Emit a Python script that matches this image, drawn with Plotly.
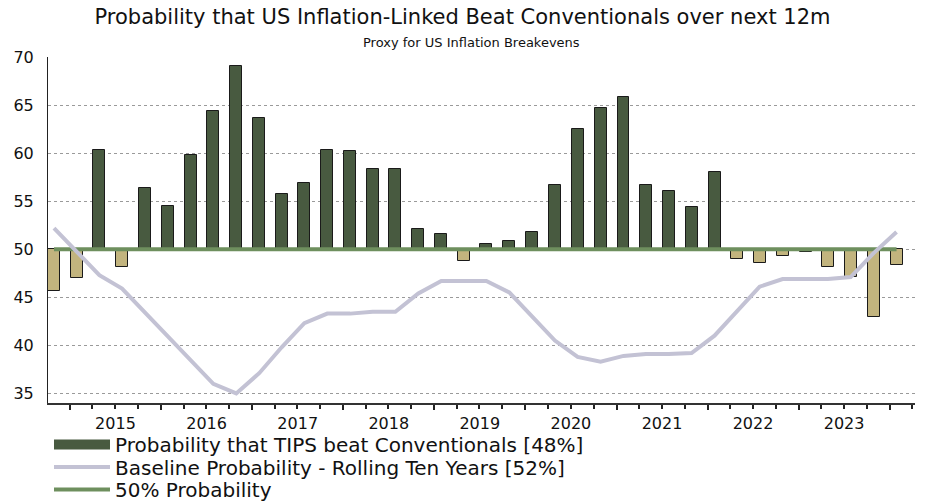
import pandas as pd
import plotly.graph_objects as go

# Quarterly observations, 2014 Q4 to 2024 Q1
quarters = pd.date_range("2014-10-01", "2024-01-01", freq="QS")

tips_prob = [45.7, 47.0, 60.3, 48.2, 56.4, 54.5, 59.8, 64.4, 69.1, 63.7,
             55.7, 56.9, 60.3, 60.2, 58.3, 58.3, 52.1, 51.6, 48.8, 50.5,
             50.9, 51.8, 56.7, 62.5, 64.7, 65.8, 56.7, 56.1, 54.4, 58.0,
             49.0, 48.6, 49.3, 49.7, 48.2, 47.1, 43.0, 48.4]

baseline_prob = [52.2, 49.7, 47.3, 45.9, 43.4, 40.9, 38.4, 36.0, 35.0, 37.1,
                 39.8, 42.3, 43.3, 43.3, 43.5, 43.5, 45.4, 46.7, 46.7, 46.7,
                 45.5, 43.0, 40.5, 38.8, 38.3, 38.9, 39.1, 39.1, 39.2, 41.0,
                 43.5, 46.1, 46.9, 46.9, 46.9, 47.1, 49.6, 51.8]

threshold = 50.0

legend_names = ["Probability that TIPS beat Conventionals [48%]",
                "Baseline Probability - Rolling Ten Years [52%]",
                "50% Probability"]

title_text = "Probability that US Inflation-Linked Beat Conventionals over next 12m"
subtitle_text = "Proxy for US Inflation Breakevens"

FONT = "DejaVu Sans"
DARK_GREEN = "#485a40"
TAN = "#c2b47e"
LAVENDER = "#c3c2d4"
MID_GREEN = "#6e8f5e"
OUTLINE = "#1a1a1a"

# bars sit in the first half of each quarter
centers = quarters + pd.Timedelta(days=28)
bar_width_ms = 48 * 86400000

above = [v >= threshold for v in tips_prob]
up_x = [c for c, a in zip(centers, above) if a]
up_v = [v - threshold for v, a in zip(tips_prob, above) if a]
dn_x = [c for c, a in zip(centers, above) if not a]
dn_v = [v - threshold for v, a in zip(tips_prob, above) if not a]

fig = go.Figure()
fig.add_trace(go.Bar(
    x=up_x, y=up_v, base=threshold, width=bar_width_ms,
    marker=dict(color=DARK_GREEN, line=dict(color=OUTLINE, width=1)),
    showlegend=False, hovertemplate="%{x|%Y Q%q}: %{value:.1f}<extra></extra>",
))
fig.add_trace(go.Bar(
    x=dn_x, y=dn_v, base=threshold, width=bar_width_ms,
    marker=dict(color=TAN, line=dict(color=OUTLINE, width=1)),
    showlegend=False, hovertemplate="%{x|%Y Q%q}: %{value:.1f}<extra></extra>",
))
fig.add_trace(go.Scatter(
    x=centers, y=[threshold] * len(centers), mode="lines",
    line=dict(color=MID_GREEN, width=4), name=legend_names[2], legend="legend3",
))
fig.add_trace(go.Scatter(
    x=centers, y=baseline_prob, mode="lines",
    line=dict(color=LAVENDER, width=4), name=legend_names[1], legend="legend2",
))
# legend swatch for the bar series
fig.add_trace(go.Scatter(
    x=[None], y=[None], mode="lines",
    line=dict(color=DARK_GREEN, width=14), name=legend_names[0], legend="legend",
))


def legend_box(top_px):
    return dict(orientation="v", x=49 / 925, xref="container", xanchor="left",
                y=1 - top_px / 501, yref="container", yanchor="top",
                font=dict(family=FONT, size=20, color="#111"),
                itemwidth=56, tracegroupgap=0, bgcolor="rgba(0,0,0,0)",
                itemclick=False, itemdoubleclick=False)


fig.update_layout(
    width=925, height=501,
    margin=dict(l=48, r=10, t=57, b=98, autoexpand=False),
    paper_bgcolor="white", plot_bgcolor="white",
    font=dict(family=FONT, color="#111"),
    title=dict(text=title_text, x=0.5, xref="container", xanchor="center",
               y=0.982, yref="container", yanchor="top",
               font=dict(family=FONT, size=21, color="#111")),
    bargap=0,
    showlegend=True,
    legend=legend_box(425),
    legend2=legend_box(447.5),
    legend3=legend_box(470),
    annotations=[dict(text=subtitle_text, xref="paper", yref="paper",
                      x=0.489, y=1.043, xanchor="center", yanchor="middle",
                      showarrow=False, font=dict(family=FONT, size=13, color="#111"))],
)

fig.update_xaxes(
    type="date", range=["2014-10-05", "2024-04-12"],
    tick0="2015-01-01", dtick="M12", tickformat="%Y", ticklabelmode="period",
    ticks="outside", ticklen=5, tickwidth=1.5, tickcolor="#222",
    showline=True, linecolor="#333", linewidth=1.5, showgrid=False, zeroline=False,
    tickangle=0, tickfont=dict(family=FONT, size=16, color="#111"),
    minor=dict(dtick="M3", tick0="2015-01-01", ticks="outside", ticklen=4,
               tickwidth=1.5, tickcolor="#222", showgrid=False),
)
fig.update_yaxes(
    range=[34, 70], tick0=35, dtick=5,
    showgrid=True, gridcolor="#9a9a9a", gridwidth=1, griddash="dot",
    showline=True, linecolor="#222", linewidth=1, zeroline=False,
    ticks="", ticklabelstandoff=10,
    tickfont=dict(family=FONT, size=16, color="#111"),
)

fig.write_html("out.html")
